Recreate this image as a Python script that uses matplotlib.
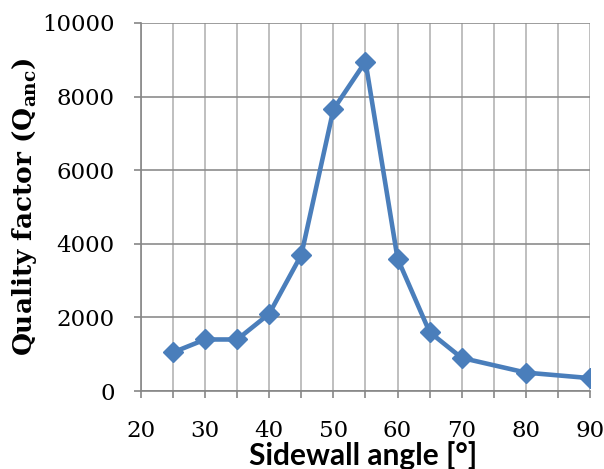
import matplotlib
matplotlib.use('Agg')
import matplotlib.pyplot as plt
matplotlib.rcParams['mathtext.fontset'] = 'dejavuserif'

# 데이터
angle = [25, 30, 35, 40, 45, 50, 55, 60, 65, 70, 80, 90]
q_anc = [1050, 1400, 1400, 2100, 3700, 7650, 8950, 3600, 1600, 900, 500, 350]

x_ticks = list(range(20, 95, 5))
x_labels = [str(v) if v % 10 == 0 else '' for v in x_ticks]
y_ticks = [0, 2000, 4000, 6000, 8000, 10000]

fig = plt.figure(figsize=(6.04, 4.69), dpi=100)
ax = fig.add_axes([0.2334, 0.1663, 0.7434, 0.7847])

ax.plot(angle, q_anc, color='#4a7ebb', linewidth=3.3, marker='D',
        markersize=10.5, zorder=3)

ax.set_xlim(20, 90)
ax.set_ylim(0, 10000)
ax.set_xticks(x_ticks)
ax.set_xticklabels(x_labels)
ax.set_yticks(y_ticks)

# 격자
ax.yaxis.grid(True, color='#8c8c8c', linewidth=1.2)
ax.xaxis.grid(True, color='#b4b4b4', linewidth=1.2)
ax.set_axisbelow(True)
for s in ['top', 'right']:
    ax.spines[s].set_visible(False)
for s in ['left', 'bottom']:
    ax.spines[s].set_color('#868686')
    ax.spines[s].set_linewidth(1.2)

ax.tick_params(axis='both', direction='out', length=5, width=1.2,
               color='#868686', labelsize=16.5)
ax.tick_params(axis='x', pad=16)
ax.tick_params(axis='y', pad=14)
for lab in ax.get_xticklabels() + ax.get_yticklabels():
    lab.set_family('DejaVu Serif')

ax.set_xlabel('Sidewall angle [°]', family='Lato', fontweight='bold',
              fontsize=21.5, va='baseline')
ax.xaxis.set_label_coords(0.4955, -0.201)
ax.set_ylabel(r'Quality factor (Q$_{\mathbf{anc}}$)', family='DejaVu Serif',
              fontweight='bold', fontsize=19, labelpad=2)

fig.savefig('out.png', dpi=100)
